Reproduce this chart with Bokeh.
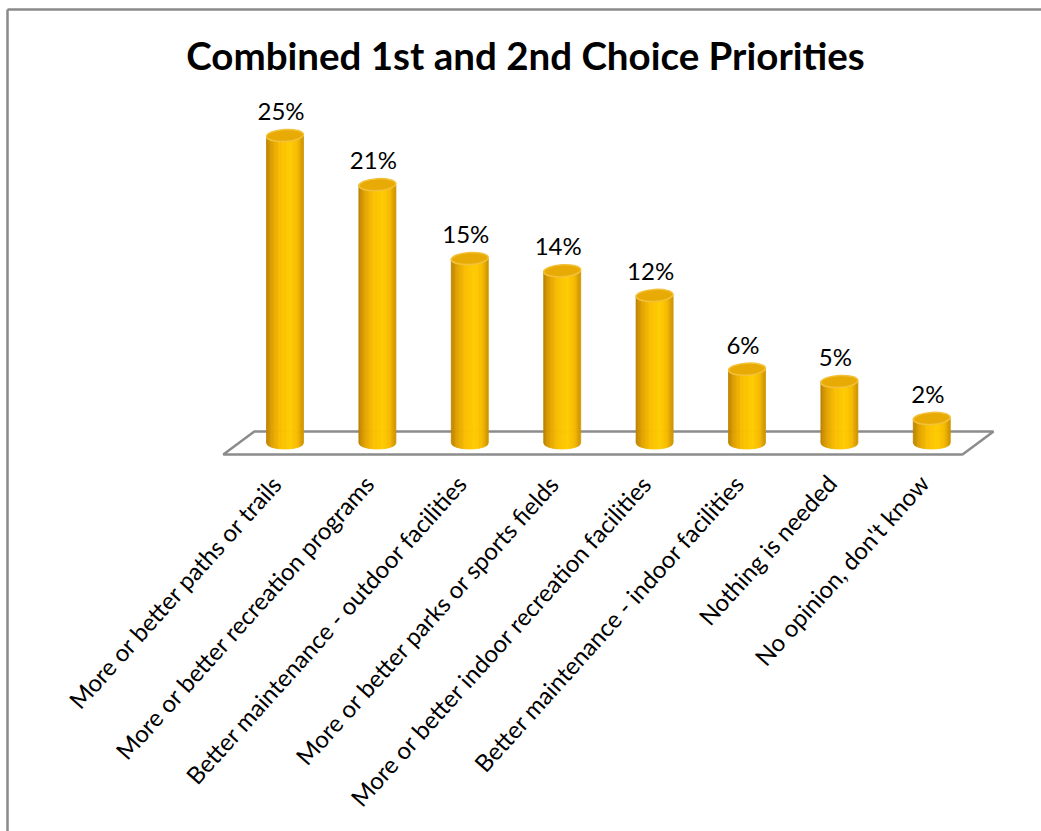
import numpy as np
from bokeh.plotting import figure
from bokeh.models import Range1d
from bokeh.core.properties import value
from bokeh.embed import file_html
from bokeh.resources import INLINE

# ---------------- data ----------------
title_text = "Combined 1st and 2nd Choice Priorities"
categories = [
    "More or better paths or trails",
    "More or better recreation programs",
    "Better maintenance - outdoor facilities",
    "More or better parks or sports fields",
    "More or better indoor recreation facilities",
    "Better maintenance - indoor facilities",
    "Nothing is needed",
    "No opinion, don't know",
]
values = [25, 21, 15, 14, 12, 6, 5, 2]
value_labels = [f"{v}%" for v in values]

# ---------------- layout constants (pixels) ----------------
W, H = 1041, 831
X0, DX = 284.5, 92.4      # pixel x of first category, pixels per category
Y0, DY = 442.5, 12.3      # pixel y of 0 %, pixels per percent

def dx(px):   # pixel distance -> data x distance
    return px / DX

def dy(px):   # pixel distance -> data y distance
    return px / DY

def ypx(py):  # absolute pixel y -> data y
    return (Y0 - py) / DY

def xpx(px):  # absolute pixel x -> data x
    return (px - X0) / DX

p = figure(width=W, height=H, output_backend="svg", toolbar_location=None,
           x_range=Range1d(xpx(0), xpx(W)), y_range=Range1d(ypx(H), ypx(0)),
           x_axis_type=None, y_axis_type=None, min_border=0,
           background_fill_color="white", border_fill_color="white")
p.outline_line_color = None
p.grid.visible = False

FONT = "Lato"

# chart border (top and left edges visible)
p.multi_line(xs=[[xpx(7), xpx(W + 5)], [xpx(7), xpx(7)]],
             ys=[[ypx(9), ypx(9)], [ypx(9), ypx(H + 5)]],
             line_color="#8a8a8a", line_width=2.5)

# floor (3-D plane under the cylinders)
n = len(categories)
skew = dx(15.5)
half_depth = dy(11.5)
p.patch(x=[-0.5 + skew, n - 0.5 + skew, n - 0.5 - skew, -0.5 - skew],
        y=[half_depth, half_depth, -half_depth, -half_depth],
        fill_color="white", line_color="#8c8c8c", line_width=2.5)

# cylinders
R = dx(18.5)     # half width
B = dy(6.0)      # half height of end ellipses
stops_u = [-1.0, -0.7, -0.25, 0.3, 0.7, 1.0]
stops_c = np.array([(184, 128, 0), (222, 160, 0), (249, 190, 0),
                    (255, 204, 0), (246, 186, 0), (204, 146, 0)], float)

def grad(u):
    return "#%02x%02x%02x" % tuple(int(round(np.interp(u, stops_u, stops_c[:, k]))) for k in range(3))

NS = 28
edges = np.linspace(-1, 1, NS + 1)
xs, ys, cols = [], [], []
for i, v in enumerate(values):
    for k in range(NS):
        ul, ur = edges[k], edges[k + 1]
        uc = 0.5 * (ul + ur)
        bl = -B * np.sqrt(max(0.0, 1 - ul * ul))
        br = -B * np.sqrt(max(0.0, 1 - ur * ur))
        xs.append([i + R * ul, i + R * ur, i + R * ur, i + R * ul])
        ys.append([v, v, br, bl])
        cols.append(grad(uc))
p.patches(xs=xs, ys=ys, fill_color=cols, line_color=cols, line_width=0.8)

# top ellipses
p.ellipse(x=list(range(n)), y=values, width=2 * R, height=2 * B, angle=0.06,
          fill_color="#e8ab06", line_color="#f3c13a", line_width=1.5)

# value labels
p.text(x=[i - dx(4) for i in range(n)], y=[v + dy(25) for v in values], text=value_labels,
       text_align="center", text_baseline="middle", text_font=value(FONT),
       text_font_size="24px", text_color="black")

# category labels, rotated
p.text(x=[i - dx(8) for i in range(n)], y=[ypx(478)] * n, text=categories,
       angle=np.deg2rad(48), text_align="right", text_baseline="middle",
       text_font=value(FONT), text_font_size="24px", text_color="black")

# title
p.text(x=[xpx(525)], y=[ypx(54)], text=[title_text], text_align="center",
       text_baseline="alphabetic", text_font=value(FONT), text_font_style="bold",
       text_font_size="38.5px", text_color="black")

open("out.html", "w").write(file_html(p, INLINE))
